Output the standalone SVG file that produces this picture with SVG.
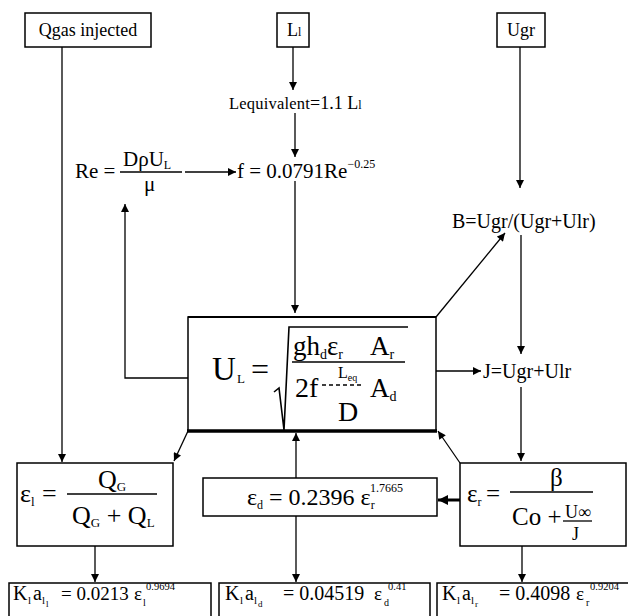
<svg xmlns="http://www.w3.org/2000/svg" width="628" height="616" viewBox="0 0 628 616" font-family="'Liberation Serif','Times New Roman',serif">
<defs>
<marker id="ah" viewBox="0 0 10 10" refX="10" refY="5" markerWidth="9" markerHeight="8" orient="auto" markerUnits="userSpaceOnUse"><path d="M0,0 L10,5 L0,10 z" fill="#000"/></marker>
<marker id="ahb" viewBox="0 0 10 10" refX="10" refY="5" markerWidth="11" markerHeight="10" orient="auto" markerUnits="userSpaceOnUse"><path d="M0,0 L10,5 L0,10 z" fill="#000"/></marker>
</defs>
<style>
.box{fill:#fff;stroke:#000;stroke-width:1.5}
.ln{fill:none;stroke:#000;stroke-width:1.3}
.arr{fill:none;stroke:#000;stroke-width:1.3;marker-end:url(#ah)}
text{font-family:"Liberation Serif","Times New Roman",serif;fill:#000}
</style>
<rect width="628" height="616" fill="#fff"/>

<g id="connectors">
<line class="arr" x1="62" y1="47" x2="62" y2="462"/>
<line class="arr" x1="293" y1="47" x2="293" y2="90"/>
<line class="arr" x1="295" y1="113" x2="295" y2="157"/>
<line class="arr" x1="185" y1="172" x2="236" y2="172"/>
<line class="arr" x1="295" y1="181" x2="295" y2="313"/>
<polyline class="arr" points="188,378 125,378 125,204"/>
<line class="arr" x1="520" y1="47" x2="520" y2="188"/>
<line class="arr" x1="436" y1="317" x2="505" y2="233"/>
<line class="arr" x1="521" y1="235" x2="521" y2="354"/>
<line class="arr" x1="436" y1="371" x2="481" y2="371"/>
<line class="arr" x1="521" y1="387" x2="521" y2="461"/>
<line class="arr" x1="188" y1="431" x2="174" y2="461"/>
<line class="arr" x1="460" y1="463" x2="438" y2="431"/>
<line class="ln" x1="460" y1="500" x2="438" y2="500" style="stroke-width:3;marker-end:url(#ahb)"/>
<line class="arr" x1="296" y1="478" x2="296" y2="433"/>
<line class="arr" x1="296" y1="516" x2="296" y2="582"/>
<line class="arr" x1="95" y1="546" x2="95" y2="582"/>
<line class="arr" x1="522" y1="546" x2="522" y2="582"/>
</g>

<g id="qgas">
<rect class="box" x="25" y="13" width="126" height="34"/>
<text x="88" y="36" font-size="18" text-anchor="middle">Qgas injected</text>
</g>

<g id="l1">
<rect class="box" x="277" y="13" width="32" height="34"/>
<text x="287" y="36" font-size="18">L<tspan font-size="12">l</tspan></text>
</g>

<g id="ugr">
<rect class="box" x="497" y="13" width="48" height="34"/>
<text x="521" y="36" font-size="18" text-anchor="middle">Ugr</text>
</g>

<g id="lequivalent">
<text x="229" y="109" font-size="16.5" letter-spacing="0.2">Lequivalent<tspan font-size="18" letter-spacing="0">=1.1 L</tspan><tspan font-size="12" letter-spacing="0">l</tspan></text>
</g>

<g id="re">
<text x="75" y="178" font-size="21">Re =</text>
<text x="123" y="166" font-size="21">DρU<tspan font-size="12" dy="3">L</tspan></text>
<line class="ln" x1="120" y1="172" x2="182" y2="172"/>
<text x="144" y="191" font-size="21">μ</text>
</g>

<g id="f">
<text x="237" y="178" font-size="21">f = 0.0791Re<tspan font-size="12" dy="-10">−0.25</tspan></text>
</g>

<g id="b">
<text x="452" y="228" font-size="20">B=Ugr/(Ugr+Ulr)</text>
</g>

<g id="j">
<text x="483" y="378" font-size="20">J=Ugr+Ulr</text>
</g>

<g id="ul">
<rect class="box" x="188" y="317" width="248" height="114"/>
<line x1="188" y1="317" x2="436" y2="317" stroke="#000" stroke-width="2.2"/>
<line x1="187" y1="431" x2="437" y2="431" stroke="#000" stroke-width="3.5"/>
<text x="212" y="380" font-size="33">U</text>
<text x="237" y="383" font-size="13">L</text>
<text x="251" y="380" font-size="32">=</text>
<path class="ln" d="M274,392 L279,388 L284,430 L289,327 L408,327" style="stroke-width:1.6"/>
<text x="293" y="355" font-size="27">gh<tspan font-size="14" dy="4">d</tspan><tspan dy="-4">ε</tspan><tspan font-size="14" dy="4">r</tspan></text>
<text x="370" y="355" font-size="27">A<tspan font-size="14" dy="4">r</tspan></text>
<line class="ln" x1="292" y1="362" x2="405" y2="362"/>
<text x="295" y="397" font-size="28">2f</text>
<text x="338" y="378" font-size="16">L<tspan font-size="10" dy="3">eq</tspan></text>
<line class="ln" x1="322" y1="385" x2="364" y2="385" stroke-dasharray="4,3"/>
<text x="338" y="421" font-size="28">D</text>
<text x="370" y="397" font-size="27">A<tspan font-size="14" dy="4">d</tspan></text>
</g>

<g id="eps-l">
<rect class="box" x="17" y="463" width="156" height="83"/>
<text x="20" y="502" font-size="26">ε<tspan font-size="13" dy="4">l</tspan></text>
<text x="42" y="502" font-size="26">=</text>
<text x="98" y="488" font-size="26">Q<tspan font-size="13" dy="3">G</tspan></text>
<line class="ln" x1="67" y1="494" x2="157" y2="494"/>
<text x="72" y="524" font-size="26">Q<tspan font-size="13" dy="3">G</tspan><tspan dy="-3"> + Q</tspan><tspan font-size="13" dy="3">L</tspan></text>
</g>

<g id="eps-d">
<rect class="box" x="203" y="478" width="234" height="38"/>
<text x="247" y="505" font-size="24">ε<tspan font-size="12" dy="4">d</tspan><tspan dy="-4"> = 0.2396 ε</tspan><tspan font-size="12" dy="4">r</tspan></text>
<text x="370" y="492" font-size="12">1.7665</text>
</g>

<g id="eps-r">
<rect class="box" x="460" y="463" width="166" height="83"/>
<text x="467" y="502" font-size="25">ε<tspan font-size="12" dy="4">r</tspan></text>
<text x="486" y="502" font-size="25">=</text>
<text x="550" y="486" font-size="25">β</text>
<line class="ln" x1="510" y1="492" x2="593" y2="492"/>
<text x="512" y="525" font-size="25">Co +</text>
<text x="565" y="518" font-size="18">U∞</text>
<line class="ln" x1="563" y1="521" x2="592" y2="521"/>
<text x="572" y="540" font-size="18">J</text>
</g>

<g id="kla-l">
<rect class="box" x="9" y="583" width="202" height="45"/>
<text x="13" y="600" font-size="20">K</text>
<text x="28" y="604" font-size="11">l</text>
<text x="33" y="600" font-size="20">a</text>
<text x="42" y="604" font-size="11">l</text>
<text x="46" y="607" font-size="9">l</text>
<text x="61" y="600" font-size="19">= 0.0213</text>
<text x="134" y="600" font-size="19">ε</text>
<text x="143" y="606" font-size="10">l</text>
<text x="146" y="590" font-size="10.5">0.9694</text>
</g>

<g id="kla-d">
<rect class="box" x="219" y="583" width="211" height="45"/>
<text x="225" y="600" font-size="20">K</text>
<text x="240" y="604" font-size="11">l</text>
<text x="245" y="600" font-size="20">a</text>
<text x="254" y="604" font-size="11">l</text>
<text x="258" y="607" font-size="9">d</text>
<text x="283" y="600" font-size="20">= 0.04519</text>
<text x="374" y="600" font-size="19">ε</text>
<text x="384" y="606" font-size="10">d</text>
<text x="388" y="590" font-size="10.5">0.41</text>
</g>

<g id="kla-r">
<rect class="box" x="437" y="583" width="195" height="45"/>
<text x="442" y="600" font-size="20">K</text>
<text x="457" y="604" font-size="11">l</text>
<text x="462" y="600" font-size="20">a</text>
<text x="471" y="604" font-size="11">l</text>
<text x="475" y="607" font-size="9">r</text>
<text x="499" y="600" font-size="20">= 0.4098</text>
<text x="576" y="600" font-size="19">ε</text>
<text x="586" y="606" font-size="10">r</text>
<text x="590" y="590" font-size="10.5">0.9204</text>
</g>
</svg>
